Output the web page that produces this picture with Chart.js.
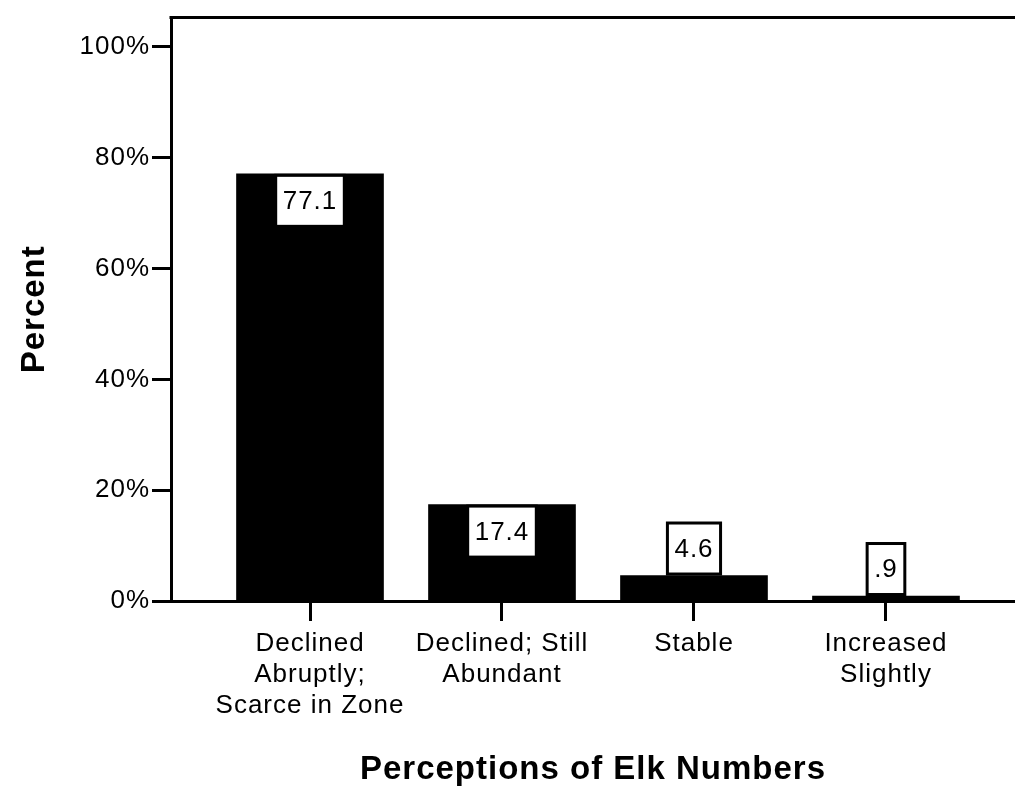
<!DOCTYPE html>
<html>
<head>
<meta charset="utf-8">
<script src="https://cdn.jsdelivr.net/npm/chart.js@4.4.1/dist/chart.umd.min.js"></script>
<style>
  html, body { margin: 0; padding: 0; background: #fff; }
  #wrap { width: 1015px; height: 786px; }
</style>
</head>
<body>
<div id="wrap"><canvas id="chart"></canvas></div>
<script>
const categories = [
    ["Declined", "Abruptly;", "Scarce in Zone"],
    ["Declined; Still", "Abundant"],
    ["Stable"],
    ["Increased", "Slightly"]
];
const percents = [77.1, 17.4, 4.6, 0.9];
const valueLabels = ["77.1", "17.4", "4.6", ".9"];
const yTicks = [0, 20, 40, 60, 80, 100];

const FONT = "'Liberation Sans', Arial, Helvetica, sans-serif";

// letter spacing gets wiped when the canvas is resized, so set it again each pass
const spacing = {
    id: "spacing",
    beforeLayout(chart) { chart.ctx.letterSpacing = "1px"; },
    beforeDraw(chart) { chart.ctx.letterSpacing = "1px"; }
};

// top edge of the frame
const frame = {
    id: "frame",
    afterDraw(chart) {
        const {ctx, chartArea} = chart;
        ctx.save();
        ctx.strokeStyle = "#000";
        ctx.lineWidth = 3;
        ctx.beginPath();
        ctx.moveTo(chartArea.left - 1.5, chartArea.top);
        ctx.lineTo(chartArea.right, chartArea.top);
        ctx.stroke();
        ctx.restore();
    }
};

// boxed value labels
const boxLabels = {
    id: "boxLabels",
    afterDatasetsDraw(chart) {
        const ctx = chart.ctx;
        const meta = chart.getDatasetMeta(0);
        ctx.save();
        ctx.font = "26px " + FONT;
        ctx.textAlign = "center";
        ctx.textBaseline = "middle";
        meta.data.forEach((bar, i) => {
            const txt = valueLabels[i];
            const w = ctx.measureText(txt).width + 14;
            const h = 51;
            const inside = (bar.base - bar.y) > h + 10;
            const top = inside ? bar.y + 1.5 : bar.y - h - 1.5;
            ctx.fillStyle = "#fff";
            ctx.fillRect(bar.x - w / 2, top, w, h);
            ctx.strokeStyle = "#000";
            ctx.lineWidth = 3;
            ctx.strokeRect(bar.x - w / 2, top, w, h);
            ctx.fillStyle = "#000";
            ctx.fillText(txt, bar.x, top + h / 2 + 1);
        });
        ctx.restore();
    }
};

new Chart(document.getElementById("chart"), {
    type: "bar",
    data: {
        datasets: [{
            data: percents.map((v, i) => ({x: i + 1, y: v})),
            backgroundColor: "#000",
            borderWidth: 0,
            barThickness: 147
        }]
    },
    plugins: [spacing, frame, boxLabels],
    options: {
        animation: false,
        responsive: true,
        maintainAspectRatio: false,
        layout: {padding: 0},
        plugins: {
            legend: {display: false},
            tooltip: {enabled: false}
        },
        scales: {
            x: {
                type: "linear",
                offset: false,
                min: 0.276,
                max: 4.672,
                afterBuildTicks(scale) {
                    scale.ticks = categories.map((c, i) => ({value: i + 1}));
                },
                afterFit(scale) { scale.height = 185; },
                grid: {
                    offset: false,
                    drawOnChartArea: false,
                    tickLength: 20,
                    tickWidth: 3,
                    tickColor: "#000"
                },
                border: {display: true, color: "#000", width: 3},
                ticks: {
                    color: "#000",
                    padding: 7,
                    maxRotation: 0,
                    autoSkip: false,
                    font: {family: FONT, size: 26, lineHeight: "31px"},
                    callback: (v) => categories[v - 1]
                },
                title: {
                    display: true,
                    text: "Perceptions of Elk Numbers",
                    color: "#000",
                    padding: {top: 0, bottom: 0},
                    font: {family: FONT, size: 33, weight: "bold", lineHeight: 1}
                }
            },
            y: {
                min: 0,
                max: 105.3,
                afterBuildTicks(scale) {
                    scale.ticks = yTicks.map(v => ({value: v}));
                },
                afterFit(scale) { scale.width = 171; },
                grid: {
                    drawOnChartArea: false,
                    tickLength: 19,
                    tickWidth: 3,
                    tickColor: "#000"
                },
                border: {display: true, color: "#000", width: 3},
                ticks: {
                    color: "#000",
                    padding: 2,
                    font: {family: FONT, size: 26},
                    callback: (v) => v + "%"
                },
                title: {
                    display: true,
                    text: "Percent",
                    color: "#000",
                    padding: {top: 15, bottom: 0},
                    font: {family: FONT, size: 33, weight: "bold", lineHeight: 1.2}
                }
            }
        }
    }
});
</script>
</body>
</html>
